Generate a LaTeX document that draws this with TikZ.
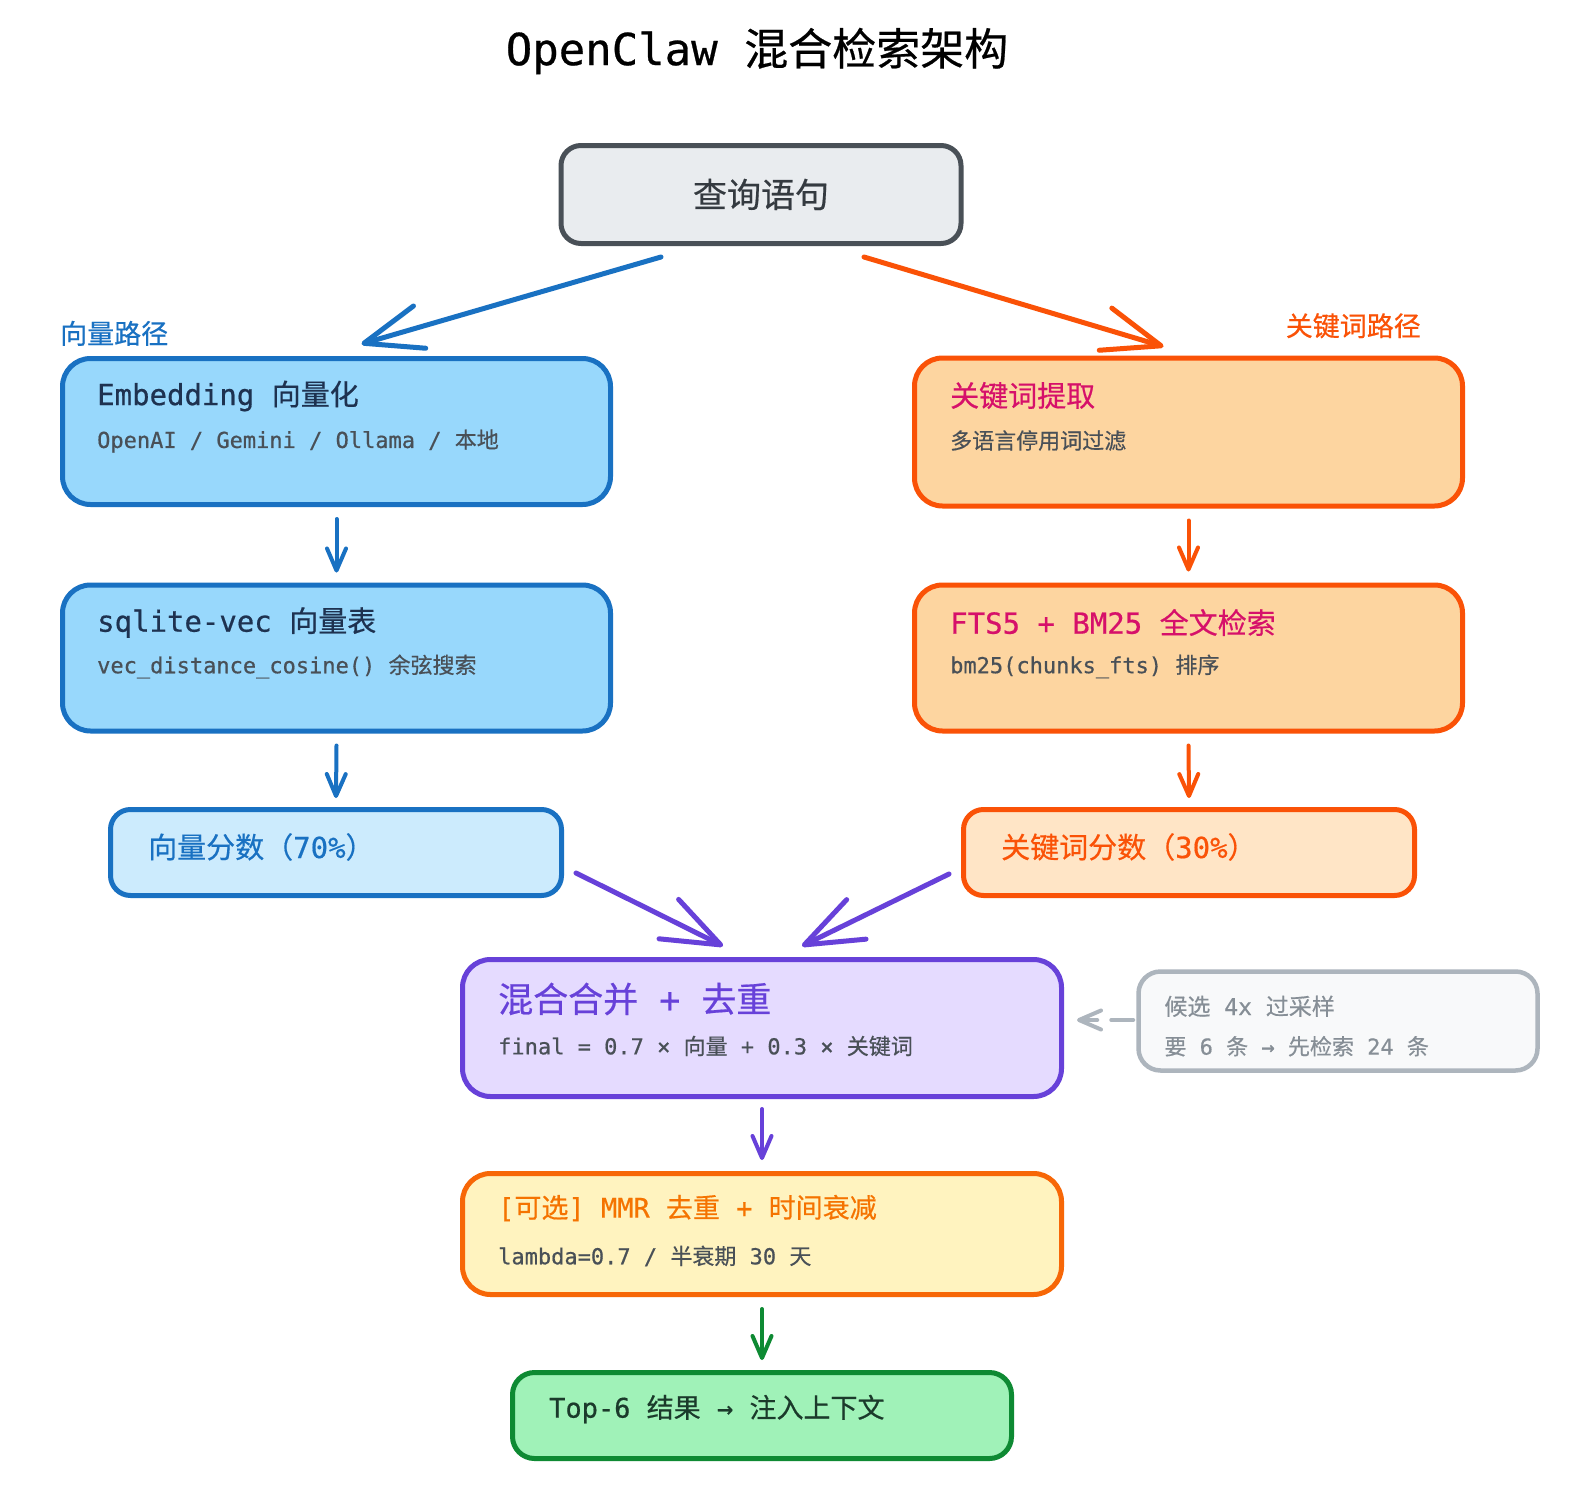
\documentclass[tikz,border=0pt]{standalone}
\usepackage{fontspec}
\setmainfont{DejaVu Sans Mono}[FakeBold=0.6]
\newfontfamily\zhfont{Noto Sans CJK SC}[FakeBold=0.5]
\usepackage{tikz}
\usetikzlibrary{arrows.meta,positioning}
\definecolor{qfill}{HTML}{E9ECEF}
\definecolor{qline}{HTML}{495057}
\definecolor{qtext}{HTML}{343A40}
\definecolor{vline}{HTML}{1971C2}
\definecolor{vfill}{HTML}{98D8FC}
\definecolor{vfilllight}{HTML}{CCEBFD}
\definecolor{vtitle}{HTML}{1E3250}
\definecolor{subgray}{HTML}{495057}
\definecolor{kline}{HTML}{FA5207}
\definecolor{kfill}{HTML}{FDD5A0}
\definecolor{kfilllight}{HTML}{FFE5C6}
\definecolor{ktitle}{HTML}{D6106A}
\definecolor{mline}{HTML}{6741D9}
\definecolor{mfill}{HTML}{E5DBFF}
\definecolor{cline}{HTML}{ADB5BD}
\definecolor{cfill}{HTML}{F8F9FA}
\definecolor{ctext}{HTML}{868E96}
\definecolor{rline}{HTML}{F76707}
\definecolor{rfill}{HTML}{FFF3BF}
\definecolor{rtitle}{HTML}{F57300}
\definecolor{gline}{HTML}{0E8A33}
\definecolor{gfill}{HTML}{A0F2B8}
\definecolor{gtext}{HTML}{1B3A2B}
\newcommand{\cn}[1]{{\zhfont #1}}
\newcommand{\fs}[1]{\fontsize{#1}{#1}\selectfont}
\tikzstyle{box}=[rectangle, draw, rounded corners=28pt, line width=5pt, inner sep=0pt]
\tikzstyle{txt}=[anchor=west, inner sep=0pt]
\tikzstyle{bigarrow}=[line width=5pt, line cap=round, -{Straight Barb[length=58pt,width=44pt,round]}]
\tikzstyle{smallarrow}=[line width=4pt, line cap=round, -{Straight Barb[length=22pt,width=19pt,round]}]

\begin{document}
\begin{tikzpicture}[x=1pt,y=-1pt]
\fill[white] (0,0) rectangle (1588,1488);
\useasboundingbox (0,0) rectangle (1588,1488);
\node (title) at (757,51) {\fs{44}OpenClaw \cn{混合检索架构}};
\node[box, draw=qline, fill=qfill, rounded corners=20pt, minimum width=400pt, minimum height=98pt] (query) at (761,194.5) {\fs{34}\color{qtext}\cn{查询语句}};

% vector path
\node[box, draw=vline, fill=vfill, minimum width=548pt, minimum height=146pt] (embed) at (336.5,431.5) {};
\node[txt, text=vtitle] (embedA) at ([shift={(37,40)}]embed.north west) {\fs{29}Embedding \cn{向量化}};
\node[txt, text=subgray] (embedB) at ([shift={(37,85)}]embed.north west) {\fs{22}OpenAI / Gemini / Ollama / \cn{本地}};
\node[box, draw=vline, fill=vfill, minimum width=548pt, minimum height=146pt] (vec) at (336.5,658) {};
\node[txt, text=vtitle] (vecA) at ([shift={(37,40)}]vec.north west) {\fs{29}sqlite-vec \cn{向量表}};
\node[txt, text=subgray] (vecB) at ([shift={(37,84)}]vec.north west) {\fs{22}vec\_distance\_cosine() \cn{余弦搜索}};
\node[box, draw=vline, fill=vfilllight, rounded corners=20pt, minimum width=451pt, minimum height=86pt] (vscore) at (336,852.5) {};
\node[txt, text=vline] (vscoreA) at ([shift={(40,40)}]vscore.north west) {\fs{29}\cn{向量分数（}70\%\cn{）}};
\node[anchor=south west, inner sep=0pt, text=vline] (vpath) at ([shift={(0,-10)}]embed.north west) {\fs{27}\cn{向量路径}};

% keyword path
\node[box, draw=kline, fill=kfill, minimum width=548pt, minimum height=148pt] (kwext) at (1188.5,432) {};
\node[txt, text=ktitle] (kwextA) at ([shift={(38,40)}]kwext.north west) {\fs{29}\cn{关键词提取}};
\node[txt, text=subgray] (kwextB) at ([shift={(38,85)}]kwext.north west) {\fs{22}\cn{多语言停用词过滤}};
\node[box, draw=kline, fill=kfill, minimum width=548pt, minimum height=146pt] (fts) at (1188.5,658) {};
\node[txt, text=ktitle] (ftsA) at ([shift={(38,40)}]fts.north west) {\fs{29}FTS5 + BM25 \cn{全文检索}};
\node[txt, text=subgray] (ftsB) at ([shift={(38,84)}]fts.north west) {\fs{22}bm25(chunks\_fts) \cn{排序}};
\node[box, draw=kline, fill=kfilllight, rounded corners=20pt, minimum width=451pt, minimum height=86pt] (kscore) at (1189,852.5) {};
\node[txt, text=kline] (kscoreA) at ([shift={(40,40)}]kscore.north west) {\fs{29}\cn{关键词分数（}30\%\cn{）}};
\node[anchor=south east, inner sep=0pt, text=kline] (kpath) at ([shift={(-44,-17)}]kwext.north east) {\fs{27}\cn{关键词路径}};

% merge and rerank
\node[box, draw=mline, fill=mfill, minimum width=599pt, minimum height=137pt] (merge) at (762,1028) {};
\node[txt, text=mline] (mergeA) at ([shift={(38,42)}]merge.north west) {\fs{35}\cn{混合合并} + \cn{去重}};
\node[txt, text=subgray] (mergeB) at ([shift={(38,89)}]merge.north west) {\fs{22}final = 0.7 × \cn{向量} + 0.3 × \cn{关键词}};
\node[box, draw=cline, fill=cfill, line width=4.5pt, rounded corners=22pt, minimum width=399pt, minimum height=99pt] (cand) at (1338,1021) {};
\node[txt, text=ctext] (candA) at ([shift={(28,37)}]cand.north west) {\fs{23}\cn{候选} 4x \cn{过采样}};
\node[txt, text=ctext] (candB) at ([shift={(28,77)}]cand.north west) {\fs{22}\cn{要} 6 \cn{条} → \cn{先检索} 24 \cn{条}};
\node[box, draw=rline, fill=rfill, minimum width=599pt, minimum height=121pt] (mmr) at (762,1234) {};
\node[txt, text=rtitle] (mmrA) at ([shift={(38,37)}]mmr.north west) {\fs{27}[\cn{可选}] MMR \cn{去重} + \cn{时间衰减}};
\node[txt, text=subgray] (mmrB) at ([shift={(38,85)}]mmr.north west) {\fs{22}lambda=0.7 / \cn{半衰期} 30 \cn{天}};
\node[box, draw=gline, fill=gfill, rounded corners=22pt, minimum width=499pt, minimum height=86pt] (top) at (762,1415.5) {};
\node[txt, text=gtext] (topA) at ([shift={(39,39)}]top.north west) {\fs{27}Top-6 \cn{结果} → \cn{注入上下文}};

% connectors
\draw[bigarrow, vline] ([shift={(-100,11)}]query.south) -- ([shift={(25,-12)}]embed.north);
\draw[bigarrow, kline] ([shift={(103,11)}]query.south) -- ([shift={(-25,-9)}]kwext.north);
\draw[smallarrow, vline] ([shift={(0,12)}]embed.south) -- ([shift={(0,-10)}]vec.north);
\draw[smallarrow, vline] ([shift={(0,12)}]vec.south) -- ([shift={(0,-9)}]vscore.north);
\draw[smallarrow, kline] ([shift={(0,12)}]kwext.south) -- ([shift={(0,-11)}]fts.north);
\draw[smallarrow, kline] ([shift={(0,12)}]fts.south) -- ([shift={(0,-9)}]kscore.north);
\draw[bigarrow, mline] ([shift={(12,-25)}]vscore.south east) -- ([shift={(-39,-11)}]merge.north);
\draw[bigarrow, mline] ([shift={(-12,-24)}]kscore.south west) -- ([shift={(40,-11)}]merge.north);
\draw[smallarrow, cline, dash pattern=on 22pt off 14pt] ([shift={(-3,-1)}]cand.west) -- ([shift={(13,-8)}]merge.east);
\draw[smallarrow, mline] ([shift={(0,10)}]merge.south) -- ([shift={(0,-11)}]mmr.north);
\draw[smallarrow, gline] ([shift={(0,12)}]mmr.south) -- ([shift={(0,-10)}]top.north);
\end{tikzpicture}
\end{document}
